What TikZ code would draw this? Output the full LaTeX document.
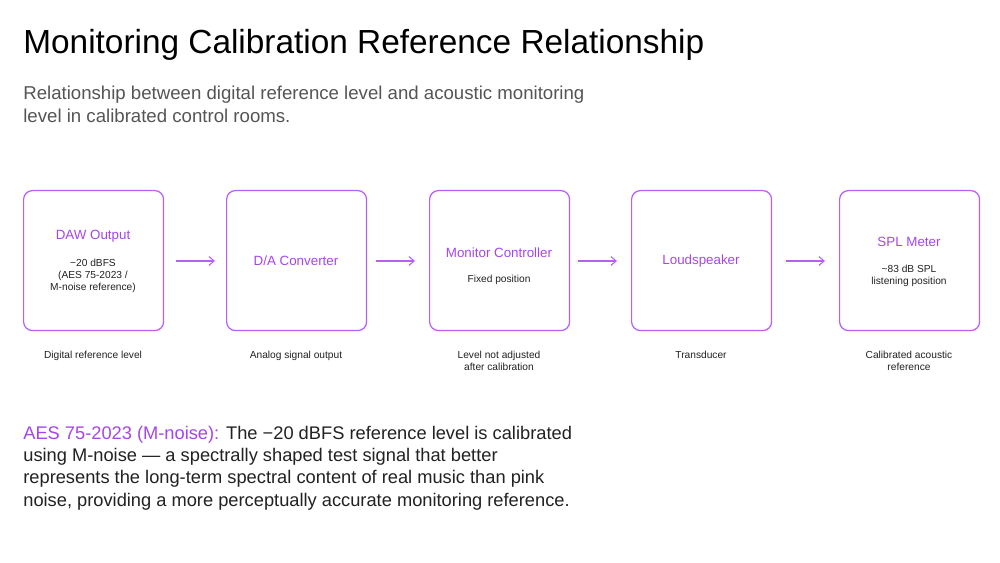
\documentclass[tikz,border=0pt]{standalone}
\usepackage{fontspec}
\setmainfont{Liberation Sans}
\usetikzlibrary{arrows.meta}
\definecolor{pur}{HTML}{B760F2}
\definecolor{purt}{HTML}{A646E8}
\definecolor{tx}{HTML}{222222}
\definecolor{gr}{HTML}{555555}
\begin{document}
\begin{tikzpicture}[x=0.02cm,y=-0.02cm,
  box/.style={draw=pur,line width=0.7pt,rounded corners=5pt,minimum width=2.8cm,minimum height=2.8cm,anchor=north west,inner sep=0pt},
  ttl/.style={text=purt,font=\fontsize{7.6pt}{9pt}\selectfont,align=center},
  sub/.style={text=tx,font=\fontsize{5.8pt}{7pt}\selectfont,align=center},
  captxt/.style={text=tx,font=\fontsize{5.8pt}{7pt}\selectfont,align=center,anchor=north},
  arr/.style={draw=pur,line width=0.6pt,-{Straight Barb[length=3pt,width=5pt]}}]
\useasboundingbox[fill=white] (0,0) rectangle (1000,563);
\node[anchor=west,text=black,font=\fontsize{19pt}{22pt}\selectfont,inner sep=0pt] (t) at (23,45) {Monitoring Calibration Reference Relationship};
\node[anchor=north west,text=gr,align=left,font=\fontsize{10.6pt}{12.8pt}\selectfont,inner sep=0pt] (s) at (23,86) {Relationship between digital reference level and acoustic monitoring\\level in calibrated control rooms.};
\node[box] (b1) at (23,190) {};
\node[box] (b2) at (226,190) {};
\node[box] (b3) at (429,190) {};
\node[box] (b4) at (631,190) {};
\node[box] (b5) at (839,190) {};
\node[ttl] (l1) at (93,236) {DAW Output};
\node[sub] (d1) at (93,276) {−20 dBFS\\(AES 75-2023 /\\M-noise reference)};
\node[ttl] (l2) at (296,261) {D/A Converter};
\node[ttl] (l3) at (499,253) {Monitor Controller};
\node[sub] (d3) at (499,280) {Fixed position};
\node[ttl] (l4) at (701,261) {Loudspeaker};
\node[ttl] (l5) at (909,242) {SPL Meter};
\node[sub] (d5) at (909,276) {\textasciitilde83 dB SPL\\listening position};
\node[captxt] (c1) at (93,345) {Digital reference level};
\node[captxt] (c2) at (296,345) {Analog signal output};
\node[captxt] (c3) at (499,345) {Level not adjusted\\after calibration};
\node[captxt] (c4) at (701,345) {Transducer};
\node[captxt] (c5) at (909,345) {Calibrated acoustic\\reference};
\coordinate (a1) at (176,261); \coordinate (a1e) at (215,261);
\coordinate (a2) at (376,261); \coordinate (a2e) at (415,261);
\coordinate (a3) at (578,261); \coordinate (a3e) at (617,261);
\coordinate (a4) at (786,261); \coordinate (a4e) at (825,261);
\draw[arr] (a1) -- (a1e);
\draw[arr] (a2) -- (a2e);
\draw[arr] (a3) -- (a3e);
\draw[arr] (a4) -- (a4e);
\node[anchor=north west,text=tx,align=left,font=\fontsize{10.4pt}{12.6pt}\selectfont,inner sep=0pt] (p) at (23,426) {\textcolor{purt}{AES 75-2023 (M-noise):} The −20 dBFS reference level is calibrated\\using M-noise — a spectrally shaped test signal that better\\represents the long-term spectral content of real music than pink\\noise, providing a more perceptually accurate monitoring reference.};
\end{tikzpicture}
\end{document}
